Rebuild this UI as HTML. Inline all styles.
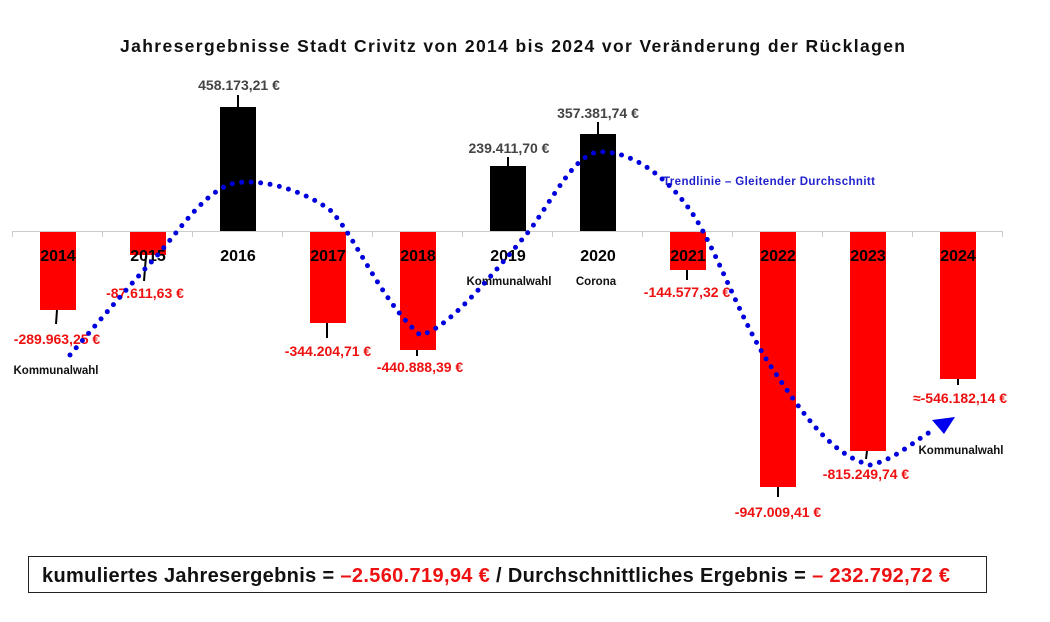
<!DOCTYPE html>
<html><head><meta charset="utf-8"><style>body{margin:0;background:#fff}svg{display:block}</style></head><body>
<svg width="1050" height="622" viewBox="0 0 1050 622" font-family="Liberation Sans, sans-serif" font-weight="bold">
<text x="120" y="52" font-size="17.5" fill="#111" textLength="785" lengthAdjust="spacing">Jahresergebnisse  Stadt Crivitz  von 2014 bis 2024 vor Veränderung der Rücklagen</text>
<g fill="#ff0000">
<rect x="40" y="231" width="36" height="79"/>
<rect x="130" y="231" width="36" height="24"/>
<rect x="310" y="231" width="36" height="92"/>
<rect x="400" y="231" width="36" height="119"/>
<rect x="670" y="231" width="36" height="39"/>
<rect x="760" y="231" width="36" height="256"/>
<rect x="850" y="231" width="36" height="220"/>
<rect x="940" y="231" width="36" height="148"/>
</g>
<g fill="#000">
<rect x="220" y="107" width="36" height="124"/>
<rect x="490" y="166" width="36" height="65"/>
<rect x="580" y="134" width="36" height="97"/>
</g>
<g stroke="#ccc" stroke-width="1">
<line x1="12" y1="231.5" x2="1003" y2="231.5"/>
<line x1="12.5" y1="231" x2="12.5" y2="237"/><line x1="102.5" y1="231" x2="102.5" y2="237"/><line x1="192.5" y1="231" x2="192.5" y2="237"/><line x1="282.5" y1="231" x2="282.5" y2="237"/><line x1="372.5" y1="231" x2="372.5" y2="237"/><line x1="462.5" y1="231" x2="462.5" y2="237"/><line x1="552.5" y1="231" x2="552.5" y2="237"/><line x1="642.5" y1="231" x2="642.5" y2="237"/><line x1="732.5" y1="231" x2="732.5" y2="237"/><line x1="822.5" y1="231" x2="822.5" y2="237"/><line x1="912.5" y1="231" x2="912.5" y2="237"/><line x1="1002.5" y1="231" x2="1002.5" y2="237"/>
</g>
<g stroke="#000" stroke-width="2">
<line x1="57" y1="310" x2="56" y2="324"/><line x1="146" y1="256" x2="144" y2="281"/><line x1="238" y1="95" x2="238" y2="107"/>
<line x1="327" y1="323" x2="327" y2="338"/><line x1="417" y1="350" x2="417" y2="356"/><line x1="508" y1="157" x2="508" y2="166"/>
<line x1="598" y1="122" x2="598" y2="134"/><line x1="687" y1="270" x2="687" y2="280"/><line x1="778" y1="487" x2="778" y2="497"/>
<line x1="867" y1="451" x2="866" y2="459"/><line x1="958" y1="379" x2="958" y2="385"/>
</g>
<g font-size="16" fill="#000" text-anchor="middle">
<text x="58" y="261">2014</text><text x="148" y="261">2015</text><text x="238" y="261">2016</text><text x="328" y="261">2017</text><text x="418" y="261">2018</text><text x="508" y="261">2019</text><text x="598" y="261">2020</text><text x="688" y="261">2021</text><text x="778" y="261">2022</text><text x="868" y="261">2023</text><text x="958" y="261">2024</text>
</g>
<g font-size="14" fill="#ee1111" text-anchor="middle">
<text x="57" y="344">-289.963,25 €</text><text x="145" y="298">-87.611,63 €</text><text x="328" y="356">-344.204,71 €</text><text x="420" y="372">-440.888,39 €</text><text x="687" y="297">-144.577,32 €</text><text x="778" y="517">-947.009,41 €</text><text x="866" y="479">-815.249,74 €</text><text x="960" y="403">≈-546.182,14 €</text>
</g>
<g font-size="14" fill="#444" text-anchor="middle">
<text x="239" y="90">458.173,21 €</text><text x="509" y="153">239.411,70 €</text><text x="598" y="118">357.381,74 €</text>
</g>
<g font-size="11.5" fill="#111" text-anchor="middle">
<text x="56" y="374">Kommunalwahl</text><text x="509" y="285">Kommunalwahl</text><text x="596" y="285">Corona</text><text x="961" y="454">Kommunalwahl</text>
</g>
<text x="663" y="185" font-size="11.5" fill="#2222cc" textLength="212" lengthAdjust="spacing">Trendlinie – Gleitender Durchschnitt</text>
<path d="M70,355 C100,320 130,285 155,258 C180,230 205,190 235,183 C270,178 310,195 330,210 C355,235 380,300 420,335 C445,330 480,290 530,230 C555,195 575,155 598,152 C630,150 665,175 690,210 C715,245 740,320 770,365 C800,410 830,455 870,465 C895,460 915,440 932,431" fill="none" stroke="#0000dd" stroke-width="5" stroke-linecap="round" stroke-dasharray="0 9.5"/>
<polygon points="932,420 955,417 944,434" fill="#0000ee"/>
<rect x="28.5" y="556.5" width="958" height="36" fill="none" stroke="#222" stroke-width="1"/>
<text x="42" y="582" font-size="20" fill="#111" textLength="908" lengthAdjust="spacing">kumuliertes Jahresergebnis = <tspan fill="#ee1111">–2.560.719,94 €</tspan> /   Durchschnittliches  Ergebnis = <tspan fill="#ee1111">– 232.792,72 €</tspan></text>
</svg>
</body></html>
